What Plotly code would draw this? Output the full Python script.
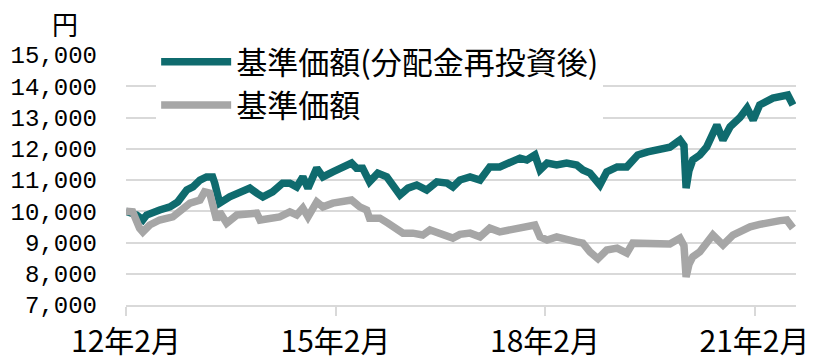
import plotly.graph_objects as go

# 基準価額(分配金再投資後)
reinv_dates = [
    "2012-02-01", "2012-03-28", "2012-04-29", "2012-05-19", "2012-07-26", "2012-09-18",
    "2012-10-29", "2012-12-15", "2013-01-16", "2013-02-22", "2013-03-28", "2013-04-29",
    "2013-05-10", "2013-05-25", "2013-06-05", "2013-07-27", "2013-09-19", "2013-11-10",
    "2013-12-16", "2014-01-17", "2014-03-09", "2014-04-30", "2014-06-07", "2014-07-13",
    "2014-08-14", "2014-09-10", "2014-10-26", "2014-11-27", "2015-01-18", "2015-03-10",
    "2015-04-26", "2015-05-22", "2015-06-23", "2015-07-29", "2015-09-10", "2015-10-27",
    "2015-11-23", "2016-01-04", "2016-02-15", "2016-04-01", "2016-05-23", "2016-07-15",
    "2016-09-06", "2016-10-07", "2016-11-13", "2017-01-05", "2017-02-26", "2017-04-18",
    "2017-06-09", "2017-08-01", "2017-09-23", "2017-10-29", "2017-12-10", "2018-01-06",
    "2018-02-12", "2018-04-03", "2018-05-25", "2018-07-17", "2018-08-18", "2018-09-24",
    "2018-10-30", "2018-11-15", "2018-12-21", "2019-02-13", "2019-04-05", "2019-05-06",
    "2019-06-01", "2019-07-23", "2019-09-25", "2019-11-16", "2020-01-08", "2020-01-29",
    "2020-02-09", "2020-02-24", "2020-03-15", "2020-04-21", "2020-05-27", "2020-07-19",
    "2020-08-20", "2020-09-26", "2020-11-17", "2020-12-24", "2021-01-25", "2021-02-28",
    "2021-05-08", "2021-06-14", "2021-07-25", "2021-08-21",
]
reinv_values = [
    10000, 9880, 9720, 9880, 10040, 10140,
    10300, 10680, 10780, 11000, 11100, 11100,
    10900, 10580, 10260, 10460, 10580, 10740,
    10580, 10460, 10620, 10900, 10900, 10780,
    11100, 10740, 11380, 11100, 11260, 11420,
    11540, 11380, 11380, 10940, 11220, 11100,
    10840, 10520, 10740, 10840, 10680, 10940,
    10900, 10780, 11000, 11100, 11000, 11420,
    11420, 11540, 11700, 11640, 11800, 11320,
    11540, 11480, 11540, 11480, 11320, 11220,
    10900, 10840, 11260, 11420, 11420, 11640,
    11800, 11900, 11960, 12050, 12280, 12100,
    10740, 11300, 11640, 11800, 12060, 12760,
    12280, 12700, 13000, 13300, 12920, 13400,
    13620, 13640, 13720, 13400,
]

# 基準価額
nav_dates = [
    "2012-02-01", "2012-03-07", "2012-04-12", "2012-04-29", "2012-06-04", "2012-07-26",
    "2012-10-03", "2012-11-25", "2013-01-01", "2013-02-22", "2013-03-18", "2013-04-14",
    "2013-04-29", "2013-05-20", "2013-06-05", "2013-07-12", "2013-09-03", "2013-10-25",
    "2013-12-16", "2014-01-02", "2014-02-23", "2014-04-15", "2014-06-07", "2014-07-13",
    "2014-08-14", "2014-09-10", "2014-10-26", "2014-11-27", "2015-01-18", "2015-03-10",
    "2015-04-26", "2015-06-08", "2015-07-14", "2015-07-29", "2015-09-21", "2015-11-02",
    "2015-12-19", "2016-01-20", "2016-03-11", "2016-05-03", "2016-06-09", "2016-07-30",
    "2016-10-07", "2016-11-13", "2017-01-05", "2017-02-26", "2017-04-18", "2017-06-09",
    "2017-08-01", "2017-09-23", "2017-11-15", "2017-12-10", "2018-01-06", "2018-02-12",
    "2018-04-03", "2018-05-25", "2018-07-17", "2018-08-18", "2018-09-24", "2018-11-05",
    "2018-12-21", "2019-02-13", "2019-04-05", "2019-05-06", "2019-07-23", "2019-09-25",
    "2019-11-16", "2020-01-08", "2020-01-29", "2020-02-09", "2020-02-24", "2020-03-15",
    "2020-04-21", "2020-06-28", "2020-08-20", "2020-10-11", "2020-11-17", "2021-01-09",
    "2021-02-28", "2021-04-22", "2021-06-14", "2021-07-20", "2021-08-21",
]
nav_values = [
    10000, 9980, 9460, 9340, 9560, 9720,
    9820, 10040, 10260, 10360, 10620, 10580,
    10260, 9720, 9980, 9620, 9880, 9940,
    9940, 9720, 9780, 9820, 9980, 9880,
    10100, 9820, 10300, 10140, 10260, 10300,
    10360, 10140, 10040, 9780, 9780, 9620,
    9400, 9300, 9300, 9240, 9400, 9300,
    9140, 9260, 9300, 9180, 9460, 9340,
    9400, 9500, 9500, 9560, 9180, 9080,
    9180, 9080, 9020, 8980, 8700, 8480,
    8760, 8820, 8660, 8980, 8950, 8980,
    8950, 9140, 8900, 7900, 8300, 8540,
    8700, 9240, 8920, 9240, 9350, 9500,
    9580, 9660, 9700, 9720, 9460,
]

tick_dates = ["2012-02-01", "2015-02-01", "2018-02-01", "2021-02-01"]
tick_labels = ["12年2月", "15年2月", "18年2月", "21年2月"]
y_ticks = [7000, 8000, 9000, 10000, 11000, 12000, 13000, 14000, 15000]

CJK = "Noto Sans CJK JP, sans-serif"
NUM = "Liberation Mono, DejaVu Sans Mono, monospace"
TEAL = "#0F6B6E"
GRAY = "#A6A6A6"

fig = go.Figure()
fig.add_trace(go.Scatter(
    x=reinv_dates, y=reinv_values, mode="lines", name="基準価額(分配金再投資後)",
    line=dict(color=TEAL, width=7.5, shape="linear"),
))
fig.add_trace(go.Scatter(
    x=nav_dates, y=nav_values, mode="lines", name="基準価額",
    line=dict(color=GRAY, width=7.5, shape="linear"),
))

# The page body has an 8px margin, so the figure is sized/offset to compensate.
fig.update_layout(
    width=805, height=352,
    margin=dict(l=118, r=17, t=47, b=55),
    paper_bgcolor="white", plot_bgcolor="white",
    font=dict(family=CJK, size=28, color="#000000"),
    showlegend=True,
    legend=dict(
        x=0.045, y=1.08, xanchor="left", yanchor="top",
        bgcolor="white", borderwidth=0,
        font=dict(family=CJK, size=31, color="#000000"),
        itemwidth=70, tracegroupgap=0,
    ),
    xaxis=dict(
        type="date", automargin=False,
        range=["2012-02-01", "2021-09-06"],
        tickmode="array", tickvals=tick_dates, ticktext=tick_labels,
        showgrid=False, zeroline=False,
        showline=True, linecolor="#D9D9D9", linewidth=2,
        ticks="outside", ticklen=9, tickwidth=2, tickcolor="#D9D9D9",
        tickfont=dict(family=CJK, size=30, color="#000000"),
    ),
    yaxis=dict(
        range=[7000, 15000], automargin=False,
        tickmode="array", tickvals=y_ticks,
        tickformat=",d",
        showgrid=True, gridcolor="#D9D9D9", gridwidth=2,
        zeroline=False, showline=False,
        ticks="", ticklabelstandoff=28,
        tickfont=dict(family=NUM, size=24, color="#000000"),
    ),
    shapes=[dict(
        type="rect", xref="paper", yref="paper", layer="between",
        x0=0, x1=0.746, y0=0.70, y1=1.0,
        fillcolor="white", line=dict(width=0),
    )],
    annotations=[dict(
        text="円", xref="paper", yref="paper", x=-0.091, y=1.13,
        xanchor="center", yanchor="middle", showarrow=False,
        height=28, borderpad=0,
        font=dict(family=CJK, size=26, color="#000000"),
    )],
)

fig.write_html("out.html")
